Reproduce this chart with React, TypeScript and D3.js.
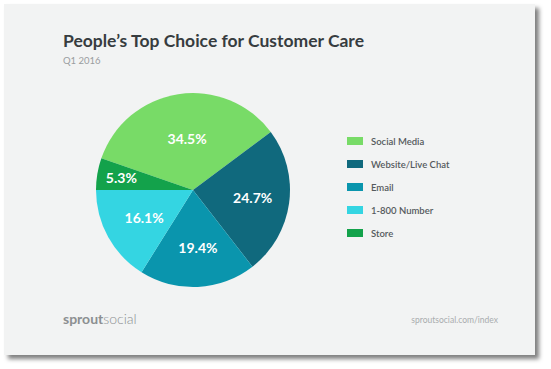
import React, { useEffect, useRef } from 'react';
import * as d3 from 'd3';

const categories = ['Social Media', 'Website/Live Chat', 'Email', '1-800 Number', 'Store'];
const shares = [34.5, 24.7, 19.4, 16.1, 5.3];
const colors = ['#78db67', '#10697d', '#0a95ad', '#34d5e2', '#13a24b'];

const title = 'People\u2019s Top Choice for Customer Care';
const subtitle = 'Q1 2016';
const footerUrl = 'sproutsocial.com/index';

interface Slice {
  name: string;
  value: number;
  color: string;
}

const App: React.FC = () => {
  const svgRef = useRef<SVGSVGElement>(null);

  useEffect(() => {
    if (!svgRef.current) return;
    const width = 551;
    const height = 369;
    const font = 'Lato, "Open Sans", sans-serif';

    const svg = d3.select(svgRef.current);
    svg.selectAll('*').remove();
    svg.attr('width', width).attr('height', height);

    const data: Slice[] = categories.map((c, i) => ({ name: c, value: shares[i], color: colors[i] }));

    // card shadow
    const defs = svg.append('defs');
    const filter = defs.append('filter').attr('id', 'shadow').attr('x', '-5%').attr('y', '-5%').attr('width', '115%').attr('height', '120%');
    filter.append('feDropShadow')
      .attr('dx', 4)
      .attr('dy', 4)
      .attr('stdDeviation', 2)
      .attr('flood-color', '#000')
      .attr('flood-opacity', 0.5);

    svg.append('rect').attr('width', width).attr('height', height).attr('fill', '#fff');

    svg.append('rect')
      .attr('x', 4)
      .attr('y', 4)
      .attr('width', 531)
      .attr('height', 351)
      .attr('fill', '#f2f3f3')
      .attr('filter', 'url(#shadow)');

    // title
    svg.append('text')
      .attr('x', 63)
      .attr('y', 47)
      .attr('font-family', font)
      .attr('font-weight', 700)
      .attr('font-size', 17.5)
      .attr('fill', '#373c3f')
      .text(title);

    svg.append('text')
      .attr('x', 63)
      .attr('y', 64)
      .attr('font-family', font)
      .attr('font-size', 9.5)
      .attr('fill', '#9a9d9f')
      .text(subtitle);

    // pie
    const cx = 193;
    const cy = 190;
    const r = 97;
    const total = d3.sum(data, d => d.value);
    // last slice starts at 9 o'clock
    const lastShare = data[data.length - 1].value / total;
    const start = 1.5 * Math.PI - (1 - lastShare) * 2 * Math.PI;

    const pie = d3.pie<Slice>()
      .sort(null)
      .value(d => d.value)
      .startAngle(start)
      .endAngle(start + 2 * Math.PI);

    const arcs = pie(data);
    const arc = d3.arc<d3.PieArcDatum<Slice>>().innerRadius(0).outerRadius(r);

    const g = svg.append('g').attr('transform', `translate(${cx},${cy})`);

    g.selectAll('path.slice')
      .data(arcs)
      .enter()
      .append('path')
      .attr('class', 'slice')
      .attr('d', arc)
      .attr('fill', d => d.data.color);

    g.selectAll('text.label')
      .data(arcs)
      .enter()
      .append('text')
      .attr('class', 'label')
      .attr('transform', d => {
        const mid = (d.startAngle + d.endAngle) / 2;
        const lr = d.data.value < 10 ? r * 0.77 : d.data.value > 30 ? r * 0.53 : r * 0.6;
        return `translate(${lr * Math.sin(mid) + 2},${-lr * Math.cos(mid) + 5})`;
      })
      .attr('text-anchor', 'middle')
      .attr('font-family', font)
      .attr('font-weight', 700)
      .attr('font-size', 14)
      .attr('fill', '#fff')
      .text(d => `${d.data.value}%`);

    // legend
    const legend = svg.append('g').attr('transform', 'translate(347,141)');
    const ly = d3.scalePoint<string>().domain(categories).range([0, 92]);
    const items = legend.selectAll('g.item')
      .data(data)
      .enter()
      .append('g')
      .attr('class', 'item')
      .attr('transform', d => `translate(0,${ly(d.name)})`);

    items.append('rect')
      .attr('x', 0)
      .attr('y', -4)
      .attr('width', 16)
      .attr('height', 8)
      .attr('fill', d => d.color);

    items.append('text')
      .attr('x', 24)
      .attr('y', 3.5)
      .attr('font-family', font)
      .attr('font-weight', 600)
      .attr('font-size', 9.5)
      .attr('fill', '#555a5d')
      .text(d => d.name);

    // footer
    const logo = svg.append('text')
      .attr('x', 63)
      .attr('y', 324)
      .attr('font-family', font)
      .attr('font-size', 14)
      .attr('fill', '#8c8f91');
    logo.append('tspan').attr('font-weight', 700).text('sprout');
    logo.append('tspan').attr('font-weight', 300).text('social');

    svg.append('text')
      .attr('x', 498)
      .attr('y', 323)
      .attr('text-anchor', 'end')
      .attr('font-family', font)
      .attr('font-size', 8.5)
      .attr('fill', '#a9acae')
      .text(footerUrl);
  }, []);

  return <svg ref={svgRef} style={{ position: 'absolute', left: 0, top: 0, display: 'block' }}></svg>;
};

export default App;
